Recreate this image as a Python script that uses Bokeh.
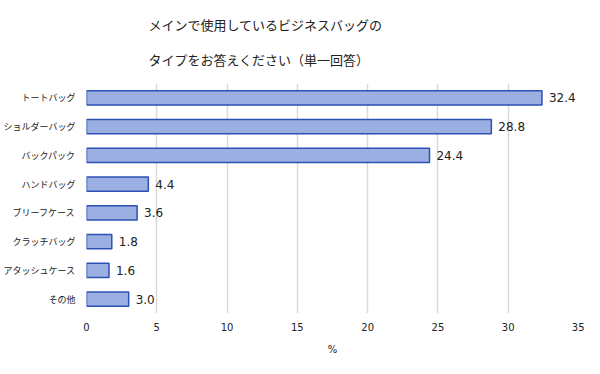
from bokeh.plotting import figure
from bokeh.models import Range1d, FactorRange, ColumnDataSource, LabelSet, FixedTicker, Title
from bokeh.core.properties import value
from bokeh.embed import file_html
from bokeh.resources import INLINE

categories = ["トートバッグ", "ショルダーバッグ", "バックパック", "ハンドバッグ",
              "ブリーフケース", "クラッチバッグ", "アタッシュケース", "その他"]
values = [32.4, 28.8, 24.4, 4.4, 3.6, 1.8, 1.6, 3.0]
value_labels = ["32.4", "28.8", "24.4", "4.4", "3.6", "1.8", "1.6", "3.0"]
x_ticks = [0, 5, 10, 15, 20, 25, 30, 35]
title_lines = ["メインで使用しているビジネスバッグの", "タイプをお答えください（単一回答）"]
x_label = "%"

JP = "Noto Sans CJK JP"
NUM = "DejaVu Sans"
TXT = "#222222"

src = ColumnDataSource(dict(cat=categories, val=values, lab=value_labels))

p = figure(frame_width=492, frame_height=230, output_backend="svg", toolbar_location=None,
           x_range=Range1d(0, 35),
           y_range=FactorRange(factors=categories[::-1], range_padding=0),
           min_border_left=86, min_border_right=6, min_border_top=83,
           min_border_bottom=45)
p.title.text = ""
p.y_range.factor_padding = 0
p.outline_line_color = None
p.background_fill_color = "white"
p.border_fill_color = "white"

p.hbar(y="cat", right="val", left=0, height=0.5, source=src,
       fill_color="#9cafe2", line_color="#2c50b3", line_width=1.5)

p.add_layout(LabelSet(x="val", y="cat", text="lab", source=src, x_offset=7,
                      text_baseline="middle", text_font_size=value("12px"),
                      text_font=value(NUM), text_color=TXT))

p.xgrid.ticker = FixedTicker(ticks=x_ticks)
p.xgrid.grid_line_color = "#d9d9d9"
p.xgrid.grid_line_width = 1.5
p.ygrid.grid_line_color = None

xa = p.xaxis[0]
xa.ticker = FixedTicker(ticks=x_ticks)
xa.axis_line_color = None
xa.major_tick_line_color = None
xa.minor_tick_line_color = None
xa.major_tick_out = 0
xa.major_tick_in = 0
xa.minor_tick_out = 0
xa.major_label_standoff = 9
xa.major_label_text_font = NUM
xa.major_label_text_font_size = "10px"
xa.major_label_text_color = TXT
xa.axis_label = x_label
xa.axis_label_text_font = NUM
xa.axis_label_text_font_style = "normal"
xa.axis_label_text_font_size = "10px"
xa.axis_label_text_color = TXT
xa.axis_label_standoff = 10

ya = p.yaxis[0]
ya.axis_line_color = None
ya.major_tick_line_color = None
ya.minor_tick_line_color = None
ya.major_tick_out = 0
ya.major_tick_in = 0
ya.minor_tick_out = 0
ya.major_label_standoff = 11
ya.major_label_text_font = JP
ya.major_label_text_font_size = "9px"
ya.major_label_text_color = TXT

p.add_layout(Title(text=title_lines[1], align="left", offset=62, standoff=29,
                   text_font=JP, text_font_size="13px", text_font_style="normal",
                   text_color=TXT), "above")
p.add_layout(Title(text=title_lines[0], align="left", offset=62, standoff=0,
                   text_font=JP, text_font_size="13px", text_font_style="normal",
                   text_color=TXT), "above")

open("out.html", "w").write(file_html(p, INLINE))
